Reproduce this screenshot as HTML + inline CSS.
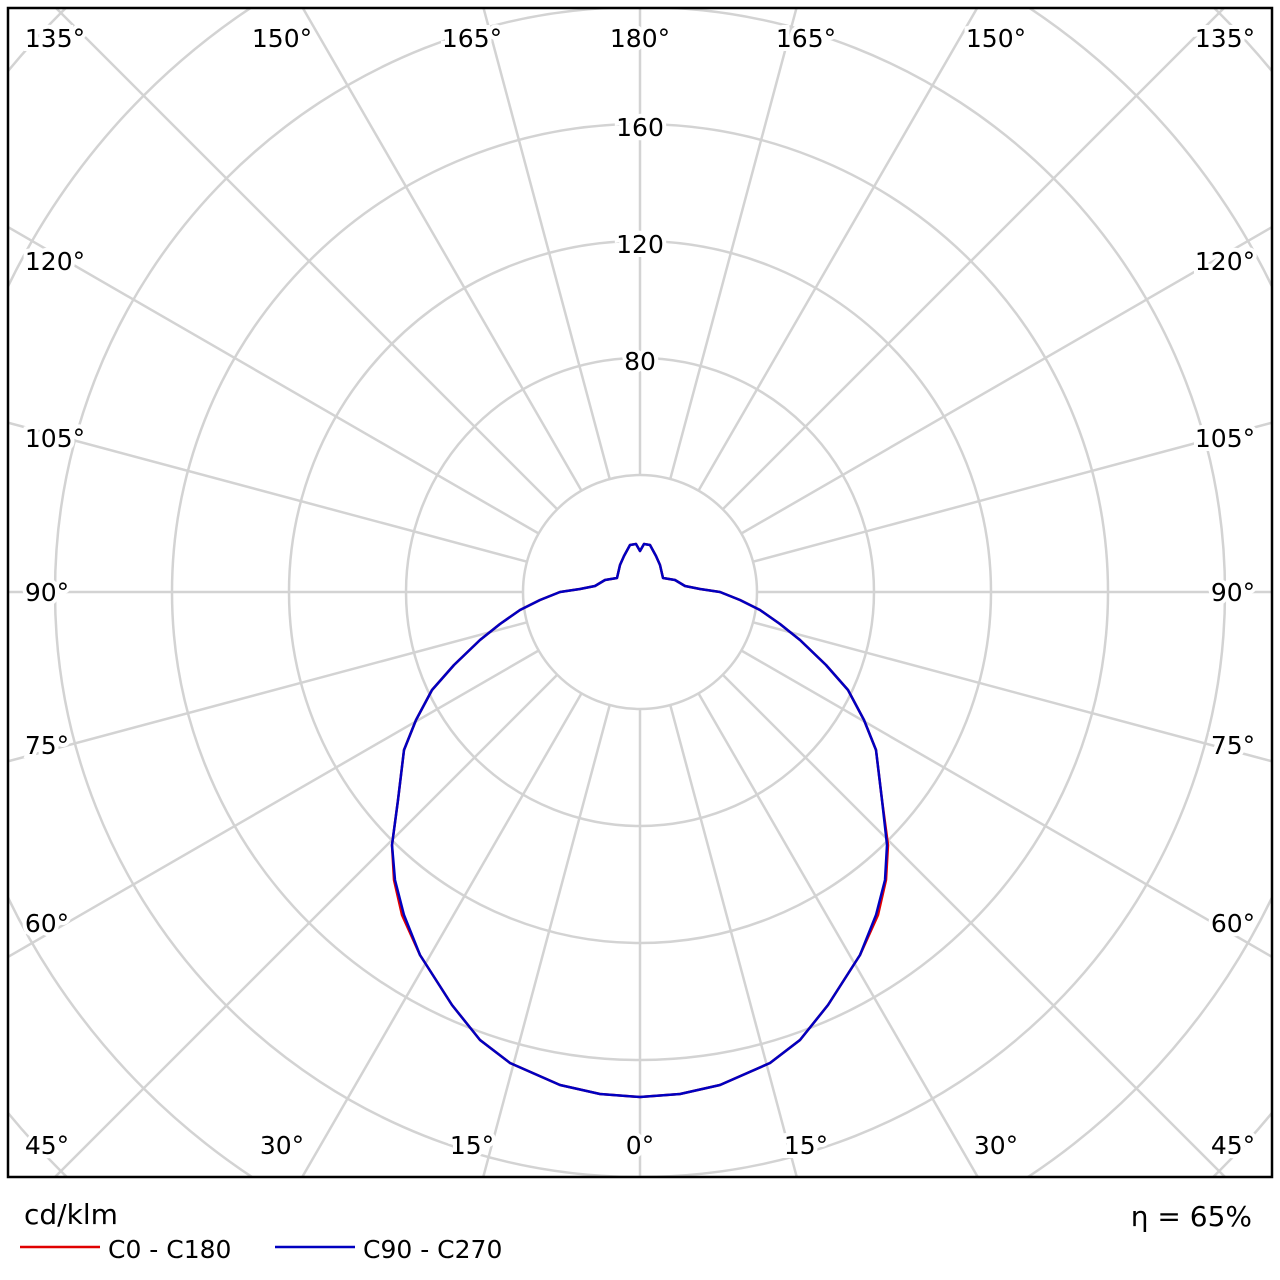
<!DOCTYPE html>
<html><head><style>html,body{margin:0;padding:0;background:#fff;overflow:hidden;width:1280px;height:1280px}svg{display:block}</style></head><body>
<svg width="1280" height="1280" viewBox="0 0 1280 1280" xmlns="http://www.w3.org/2000/svg" font-family="'DejaVu Sans','Liberation Sans',sans-serif">
<defs><clipPath id="c"><rect x="8" y="8" width="1264" height="1169"/></clipPath></defs>
<rect width="1280" height="1280" fill="#fff"/>
<g clip-path="url(#c)" stroke="#d3d3d3" stroke-width="2.5" fill="none">
<circle cx="640" cy="592" r="117"/><circle cx="640" cy="592" r="234"/><circle cx="640" cy="592" r="351"/><circle cx="640" cy="592" r="468"/><circle cx="640" cy="592" r="585"/><circle cx="640" cy="592" r="702"/><circle cx="640" cy="592" r="819"/><circle cx="640" cy="592" r="936"/>
<line x1="640" y1="709" x2="640" y2="2000"/>
<line x1="640" y1="709" x2="640" y2="2000" transform="rotate(15 640 592)"/>
<line x1="640" y1="709" x2="640" y2="2000" transform="rotate(30 640 592)"/>
<line x1="640" y1="709" x2="640" y2="2000" transform="rotate(45 640 592)"/>
<line x1="640" y1="709" x2="640" y2="2000" transform="rotate(60 640 592)"/>
<line x1="640" y1="709" x2="640" y2="2000" transform="rotate(75 640 592)"/>
<line x1="640" y1="709" x2="640" y2="2000" transform="rotate(90 640 592)"/>
<line x1="640" y1="709" x2="640" y2="2000" transform="rotate(105 640 592)"/>
<line x1="640" y1="709" x2="640" y2="2000" transform="rotate(120 640 592)"/>
<line x1="640" y1="709" x2="640" y2="2000" transform="rotate(135 640 592)"/>
<line x1="640" y1="709" x2="640" y2="2000" transform="rotate(150 640 592)"/>
<line x1="640" y1="709" x2="640" y2="2000" transform="rotate(165 640 592)"/>
<line x1="640" y1="709" x2="640" y2="2000" transform="rotate(180 640 592)"/>
<line x1="640" y1="709" x2="640" y2="2000" transform="rotate(195 640 592)"/>
<line x1="640" y1="709" x2="640" y2="2000" transform="rotate(210 640 592)"/>
<line x1="640" y1="709" x2="640" y2="2000" transform="rotate(225 640 592)"/>
<line x1="640" y1="709" x2="640" y2="2000" transform="rotate(240 640 592)"/>
<line x1="640" y1="709" x2="640" y2="2000" transform="rotate(255 640 592)"/>
<line x1="640" y1="709" x2="640" y2="2000" transform="rotate(270 640 592)"/>
<line x1="640" y1="709" x2="640" y2="2000" transform="rotate(285 640 592)"/>
<line x1="640" y1="709" x2="640" y2="2000" transform="rotate(300 640 592)"/>
<line x1="640" y1="709" x2="640" y2="2000" transform="rotate(315 640 592)"/>
<line x1="640" y1="709" x2="640" y2="2000" transform="rotate(330 640 592)"/>
<line x1="640" y1="709" x2="640" y2="2000" transform="rotate(345 640 592)"/>
</g>
<g font-size="25" fill="#000" text-anchor="middle" stroke="#fff" stroke-width="8" paint-order="stroke">
<text x="55" y="47">135°</text><text x="282" y="47">150°</text><text x="472" y="47">165°</text><text x="640" y="47">180°</text><text x="806" y="47">165°</text><text x="996" y="47">150°</text><text x="1225" y="47">135°</text>
<text x="55" y="270">120°</text><text x="1225" y="270">120°</text>
<text x="55" y="447">105°</text><text x="1225" y="447">105°</text>
<text x="47" y="601">90°</text><text x="1233" y="601">90°</text>
<text x="47" y="754">75°</text><text x="1233" y="754">75°</text>
<text x="47" y="932">60°</text><text x="1233" y="932">60°</text>
<text x="47" y="1154">45°</text><text x="282" y="1154">30°</text><text x="472" y="1154">15°</text><text x="640" y="1154">0°</text><text x="806" y="1154">15°</text><text x="996" y="1154">30°</text><text x="1233" y="1154">45°</text>
<text x="640" y="136">160</text><text x="640" y="253">120</text><text x="640" y="370">80</text>
</g>
<g fill="none" stroke-width="2.5" stroke-linejoin="round">
<path stroke="#e00000" d="M640,1097 L680,1094 720,1085 770,1063 800,1040 828,1005 860,955 878,915 886,880 888,845 882,800 876,750 864,720 848,690 826,665 800,640 780,624 760,610 740,600 720,592 700,589 685,586 675,580 663,578 660,565 656,556 650,545 644,544 640,551 636,544 630,545 624,556 620,565 617,578 605,580 595,586 580,589 560,592 540,600 520,610 500,624 480,640 454,665 432,690 416,720 404,750 398,800 392,845 394,880 402,915 420,955 452,1005 480,1040 510,1063 560,1085 600,1094 Z"/>
<path stroke="#0000c0" d="M640,1097 L680,1094 720,1085 770,1063 800,1040 828,1005 860,955 876,915 885,880 887,845 882,800 876,750 864,720 848,690 826,665 800,640 780,624 760,610 740,600 720,592 700,589 685,586 675,580 663,578 660,565 656,556 650,545 644,544 640,551 636,544 630,545 624,556 620,565 617,578 605,580 595,586 580,589 560,592 540,600 520,610 500,624 480,640 454,665 432,690 416,720 404,750 398,800 392,845 395,880 404,915 420,955 452,1005 480,1040 510,1063 560,1085 600,1094 Z"/>
</g>
<rect x="8" y="8" width="1264" height="1169" fill="none" stroke="#000" stroke-width="2.5"/>
<text x="24" y="1224" font-size="28">cd/klm</text>
<text x="1252" y="1226" font-size="28" text-anchor="end">η = 65%</text>
<line x1="20" y1="1247" x2="100" y2="1247" stroke="#e00000" stroke-width="2.5"/>
<text x="108" y="1258" font-size="25">C0 - C180</text>
<line x1="275" y1="1247" x2="355" y2="1247" stroke="#0000c0" stroke-width="2.5"/>
<text x="363" y="1258" font-size="25">C90 - C270</text>
</svg>
</body></html>
